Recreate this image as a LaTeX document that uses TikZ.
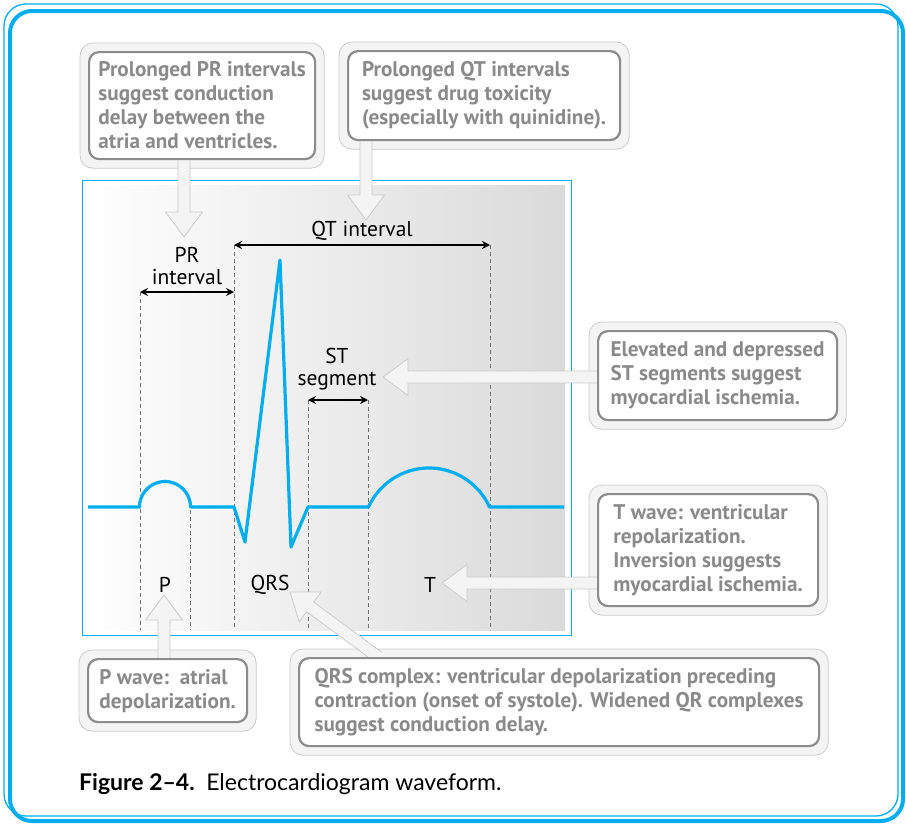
\documentclass[tikz,border=0pt]{standalone}
\usepackage{fontspec}
\setmainfont{PT Sans}
\newfontfamily\captionfont[Ligatures=TeX]{Lato}
\usepackage{xcolor}
\usepackage{tikz}
\usetikzlibrary{arrows.meta, positioning, calc}
\definecolor{ecgblue}{HTML}{00AEEF}
\definecolor{boxgray}{HTML}{8C8C8C}
\definecolor{boxtext}{HTML}{8A8A8A}
\definecolor{shellgray}{HTML}{F4F4F4}
\definecolor{shellline}{HTML}{CBCBCB}
\definecolor{dashgray}{HTML}{737373}
\definecolor{chartgray}{HTML}{DADADA}

\pgfdeclarelayer{front}
\pgfsetlayers{main,front}

% fat grey callout arrow from #1 to #2
\newcommand{\fatarrow}[2]{%
  \path (#1) coordinate (fa-from) (#2) coordinate (fa-to);
  \pgfpointdiff{\pgfpointanchor{fa-from}{center}}{\pgfpointanchor{fa-to}{center}}%
  \pgfgetlastxy{\fadx}{\fady}%
  \pgfmathsetmacro{\faang}{atan2(\fady,\fadx)}%
  \pgfmathsetmacro{\falen}{veclen(\fadx,\fady)}%
  \begin{scope}[shift={(fa-from)}, rotate=\faang, x=1pt, y=1pt]
    \filldraw[fatarrowstyle] (0,-6) -- ({\falen-25},-6) -- ({\falen-25},-18.5) -- (\falen,0)
      -- ({\falen-25},18.5) -- ({\falen-25},6) -- (0,6);
  \end{scope}}

\begin{document}
\begin{tikzpicture}[x=1pt, y=-1pt,
    every node/.style={inner sep=0pt},
    ecg/.style={ecgblue, line width=3.2pt, line join=round},
    guide/.style={dashgray, line width=0.9pt, dash pattern=on 4pt off 3pt},
    span/.style={black, line width=1.3pt, {Stealth[length=8pt,width=8pt]}-{Stealth[length=8pt,width=8pt]}},
    wavelbl/.style={font=\fontsize{21.5}{22}\selectfont, align=center},
    infobox/.style={draw=boxgray, line width=2.2pt, fill=white, rounded corners=10pt, text=boxtext,
      font=\bfseries\fontsize{21.2}{24}\selectfont, align=left, anchor=north west},
    shell/.style={draw=shellline, line width=0.8pt, fill=shellgray, rounded corners=13pt},
    fatarrowstyle/.style={draw=shellline, line width=0.8pt, fill=shellgray, line join=round}]
    \useasboundingbox (0,0) rectangle (906,825);

    % frame
    \draw[ecgblue, line width=1.3pt, rounded corners=22pt] (4,4) rectangle (898,816);
    \draw[ecgblue, line width=4pt, rounded corners=22pt] (10,11) rectangle (903,821);

    % chart area
    \shade[left color=white, right color=chartgray] (84,185) rectangle (565,630);
    \draw[ecgblue, line width=1pt] (82,180) rectangle (571,635);

    \coordinate (pr-l) at (140,292);
    \coordinate (pr-r) at (234,292);
    \coordinate (qt-l) at (234,245);
    \coordinate (qt-r) at (490,245);
    \coordinate (st-l) at (308,400);
    \coordinate (st-r) at (368,400);
    \coordinate (p-r) at (190,510);

    \foreach \c in {pr-l, p-r, qt-l, st-l, st-r, qt-r}
        \draw[guide] (\c) -- (\c |- 0,630);

    \draw[span] (pr-l) -- (pr-r);
    \draw[span] (qt-l) -- (qt-r);
    \draw[span] (st-l) -- (st-r);

    \draw[ecg] (88,507) -- (140,507)
        -- plot[domain=180:0, samples=40] ({165+25.5*cos(\x)}, {507-25.5*sin(\x)})
        -- (234,507) -- (245,542) -- (280,260) -- (291,547) -- (308,507) -- (368,507)
        -- plot[domain=155.6:24.4, samples=50] ({429+66.4*cos(\x)}, {534.4-66.4*sin(\x)})
        -- (564,507);

    \node[wavelbl] (prlbl) at (187,266) {PR\\interval};
    \node[wavelbl] (qtlbl) at (362,231) {QT interval};
    \node[wavelbl] (stlbl) at (337,369) {ST\\segment};
    \node[wavelbl] (plbl) at (165,585) {P};
    \node[wavelbl] (qrslbl) at (270,585) {QRS};
    \node[wavelbl] (tlbl) at (430,585) {T};

    % callout boxes
    \begin{pgfonlayer}{front}
        \node[infobox, minimum width=226, minimum height=107] (prbox) at (88,51)
            {Prolonged PR intervals\\suggest conduction\\delay between the\\atria and ventricles.};
        \node[infobox, minimum width=272, minimum height=89] (qtbox) at (347,50)
            {Prolonged QT intervals\\suggest drug toxicity\\(especially with quinidine).};
        \node[infobox, minimum width=239, minimum height=89] (stbox) at (597,330)
            {Elevated and depressed\\ST segments suggest\\myocardial ischemia.};
        \node[infobox, minimum width=220, minimum height=112] (tbox) at (597,493)
            {T wave: ventricular\\repolarization.\\Inversion suggests\\myocardial ischemia.};
        \node[infobox, minimum width=159, minimum height=63] (pbox) at (87,658)
            {P wave:\ \ atrial\\depolarization.};
        \node[infobox, minimum width=520, minimum height=88] (qrsbox) at (298,657)
            {QRS complex: ventricular depolarization preceding\\contraction (onset of systole). Widened QR complexes\\suggest conduction delay.};
    \end{pgfonlayer}

    \foreach \b in {prbox, qtbox, stbox, tbox, pbox, qrsbox}
        \draw[shell] ($(\b.north west)+(-8,-8)$) rectangle ($(\b.south east)+(8,8)$);

    \coordinate (prtip) at (184,237);
    \coordinate (qttip) at (366,220);
    \coordinate (sttip) at (383,377);
    \coordinate (ttip) at (442,583);
    \coordinate (ptip) at (164,595);
    \coordinate (qrstip) at (290,592);

    \fatarrow{prtip |- prbox.south}{prtip}
    \fatarrow{qttip |- qtbox.south}{qttip}
    \fatarrow{stbox.west |- sttip}{sttip}
    \fatarrow{tbox.west |- ttip}{ttip}
    \fatarrow{ptip |- pbox.north}{ptip}
    \fatarrow{$(qrsbox.north west)+(80,0)$}{qrstip}

    \node[anchor=base west, font=\captionfont\fontsize{23}{26}\selectfont] (caption) at (79,790)
        {\textbf{Figure 2–4.}\enspace Electrocardiogram waveform.};
\end{tikzpicture}
\end{document}
